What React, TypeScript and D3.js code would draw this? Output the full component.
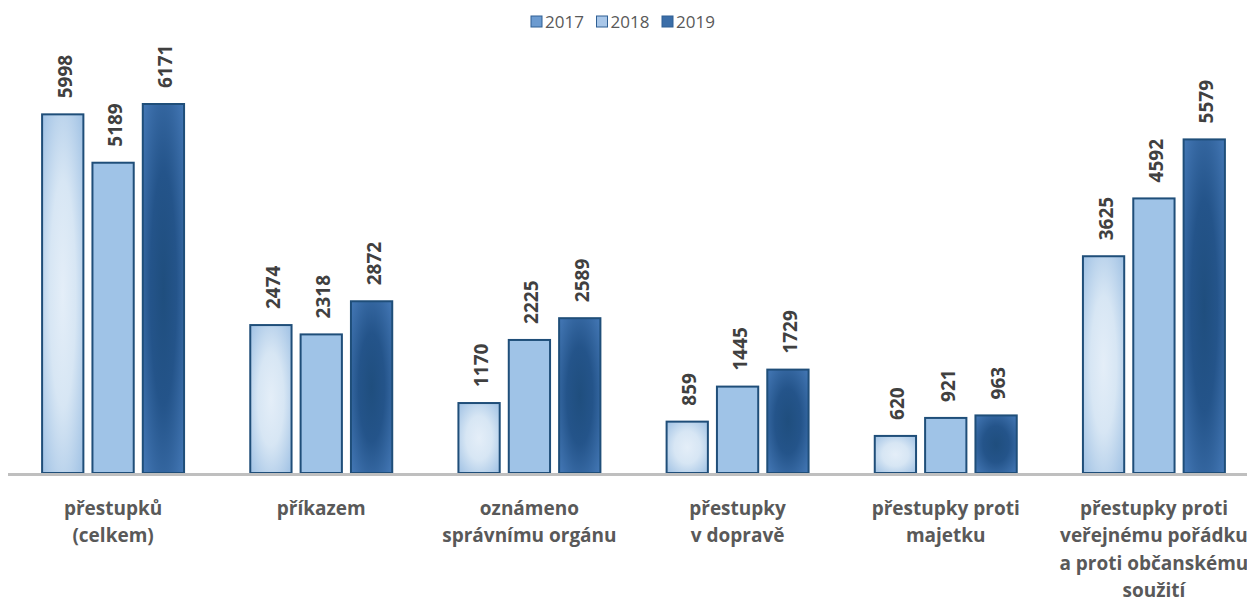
import React from 'react';
import * as d3 from 'd3';

const categories = [
  ['přestupků', '(celkem)'],
  ['příkazem'],
  ['oznámeno', 'správnímu orgánu'],
  ['přestupky', 'v dopravě'],
  ['přestupky proti', 'majetku'],
  ['přestupky proti', 'veřejnému pořádku', 'a proti občanskému', 'soužití'],
];
const years = ['2017', '2018', '2019'];
const values2017 = [5998, 2474, 1170, 859, 620, 3625];
const values2018 = [5189, 2318, 2225, 1445, 921, 4592];
const values2019 = [6171, 2872, 2589, 1729, 963, 5579];

const series = [values2017, values2018, values2019];
const legendColors = ['#6c9bd0', '#a9c7e9', '#3b6ea8'];
const fills = ['url(#g2017)', '#9fc3e7', 'url(#g2019)'];

const width = 1247;
const height = 603;
const baseline = 473;

export default function App() {
  const x0 = d3.scaleBand<number>()
    .domain(d3.range(categories.length))
    .range([9, 1258])
    .paddingInner(0.318)
    .paddingOuter(0.159);
  const x1 = d3.scaleBand<number>()
    .domain([0, 1, 2])
    .range([0, x0.bandwidth()])
    .paddingInner(0.18);
  const y = d3.scaleLinear().domain([0, 6171]).range([baseline, 104]);

  const font = '"Open Sans", Lato, sans-serif';

  return (
    <svg width={width} height={height} style={{ position: 'absolute', left: 0, top: 0 }}>
      <defs>
        <radialGradient id="g2017" cx="50%" cy="50%" r="70%">
          <stop offset="0%" stopColor="#e4eef8" />
          <stop offset="45%" stopColor="#d7e6f4" />
          <stop offset="100%" stopColor="#9fc1e4" />
        </radialGradient>
        <radialGradient id="g2019" cx="50%" cy="50%" r="70%">
          <stop offset="0%" stopColor="#1f4e7e" />
          <stop offset="45%" stopColor="#24548a" />
          <stop offset="100%" stopColor="#4478b6" />
        </radialGradient>
      </defs>

      {/* legend */}
      <g fontFamily={font} fontSize={17} fill="#595959">
        {years.map((yr, i) => {
          const lx = 531 + i * 65.5;
          return (
            <g key={yr}>
              <rect x={lx} y={16} width={11} height={11} fill={legendColors[i]} stroke="#2f5f93" strokeWidth={1} />
              <text x={lx + 14} y={28}>{yr}</text>
            </g>
          );
        })}
      </g>

      {/* bars */}
      {categories.map((_, ci) => (
        <g key={ci} transform={`translate(${x0(ci)},0)`}>
          {series.map((vals, si) => {
            const bx = x1(si)!;
            const by = y(vals[ci]);
            const cx = bx + x1.bandwidth() / 2;
            return (
              <g key={si}>
                <rect
                  x={bx}
                  y={by}
                  width={x1.bandwidth()}
                  height={baseline - by}
                  fill={fills[si]}
                  stroke="#1f4e79"
                  strokeWidth={2}
                />
                <text
                  transform={`translate(${cx + 9},${by - 16}) rotate(-90)`}
                  fontFamily={font}
                  fontWeight={700}
                  fontSize={19}
                  fill="#404040"
                >
                  {vals[ci]}
                </text>
              </g>
            );
          })}
        </g>
      ))}

      {/* axis line */}
      <line x1={8} x2={width} y1={baseline + 1.5} y2={baseline + 1.5} stroke="#bfbfbf" strokeWidth={3} />

      {/* category labels */}
      {categories.map((lines, ci) => (
        <text
          key={ci}
          textAnchor="middle"
          fontFamily={font}
          fontWeight={700}
          fontSize={19}
          fill="#595959"
        >
          {lines.map((ln, li) => (
            <tspan key={li} x={x0(ci)! + x0.bandwidth() / 2} y={515 + li * 27.3}>{ln}</tspan>
          ))}
        </text>
      ))}
    </svg>
  );
}
